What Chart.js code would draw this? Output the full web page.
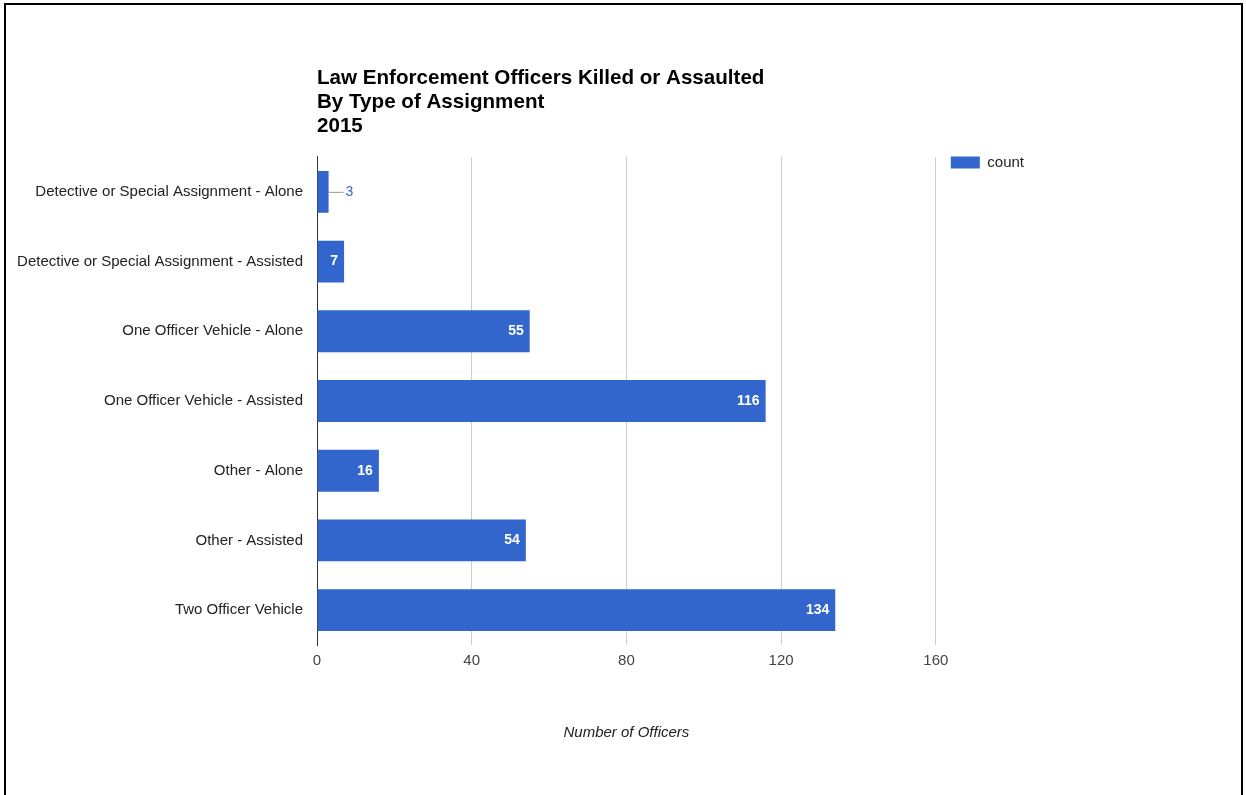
<!DOCTYPE html>
<html>
<head>
<meta charset="utf-8">
<script src="https://cdn.jsdelivr.net/npm/chart.js@4.4.0/dist/chart.umd.min.js"></script>
<style>
  body { margin: 0; background: #fff; }
  #frame { position: absolute; left: 4px; top: 3px; width: 1235px; height: 900px; border: 2px solid #000; }
  #myBarChart { position: absolute; left: 0; top: 0; }
</style>
</head>
<body>
<div id="frame"></div>
<canvas id="myBarChart" width="1246" height="795"></canvas>
<script>
const categories = [
    'Detective or Special Assignment - Alone',
    'Detective or Special Assignment - Assisted',
    'One Officer Vehicle - Alone',
    'One Officer Vehicle - Assisted',
    'Other - Alone',
    'Other - Assisted',
    'Two Officer Vehicle'
];
const counts = [3, 7, 55, 116, 16, 54, 134];
const titleLines = ['Law Enforcement Officers Killed or Assaulted', 'By Type of Assignment', '2015'];
const xTicks = [0, 40, 80, 120, 160];

const barBlue = '#3366cc';
const font = 'Arial, "Liberation Sans", sans-serif';

// value labels: inside the bar when they fit, else outside with a short leader line
const barLabels = {
    id: 'barLabels',
    afterDatasetsDraw(chart) {
        const ctx = chart.ctx;
        const meta = chart.getDatasetMeta(0);
        ctx.save();
        ctx.textBaseline = 'middle';
        meta.data.forEach(function (bar, i) {
            const text = String(counts[i]);
            ctx.font = 'bold 14px ' + font;
            const w = ctx.measureText(text).width;
            if (w + 12 < bar.x - bar.base) {
                ctx.fillStyle = '#ffffff';
                ctx.textAlign = 'right';
                ctx.fillText(text, bar.x - 6, bar.y);
            } else {
                ctx.strokeStyle = '#999999';
                ctx.lineWidth = 1;
                ctx.beginPath();
                ctx.moveTo(bar.x, bar.y + 0.5);
                ctx.lineTo(bar.x + 15, bar.y + 0.5);
                ctx.stroke();
                ctx.font = '14px ' + font;
                ctx.fillStyle = barBlue;
                ctx.textAlign = 'left';
                ctx.fillText(text, bar.x + 17, bar.y);
            }
        });
        ctx.restore();
    }
};

// legend sits level with the top of the plot
const legendUp = {
    id: 'legendUp',
    afterLayout(chart) {
        chart.legend.top -= 17;
        chart.legend.bottom -= 17;
    }
};

new Chart(document.getElementById('myBarChart'), {
    type: 'bar',
    data: {
        labels: categories,
        datasets: [{
            label: 'count',
            data: counts,
            backgroundColor: barBlue,
            borderWidth: 0,
            categoryPercentage: 1.0,
            barPercentage: 0.6
        }]
    },
    options: {
        indexAxis: 'y',
        responsive: false,
        animation: false,
        layout: { padding: { left: 0, right: 212, top: 0, bottom: 53 } },
        plugins: {
            title: {
                display: true,
                text: titleLines,
                align: 'start',
                fullSize: false,
                color: '#000',
                font: { family: font, size: 20.6, weight: 'bold', lineHeight: 1.165 },
                padding: { top: 66, bottom: 19 }
            },
            legend: {
                position: 'right',
                align: 'start',
                fullSize: false,
                labels: {
                    boxWidth: 29,
                    boxHeight: 12,
                    padding: 15,
                    color: '#222',
                    font: { family: font, size: 15 }
                }
            },
            tooltip: { enabled: false }
        },
        scales: {
            x: {
                min: 0,
                max: 160,
                afterBuildTicks: function (s) { s.ticks = xTicks.map(function (v) { return { value: v }; }); },
                afterFit: function (s) { s.height = 97; },
                grid: {
                    drawTicks: false,
                    color: function (c) { return c.tick && c.tick.value === 0 ? 'rgba(0,0,0,0)' : '#cccccc'; }
                },
                border: { display: false },
                ticks: { padding: 7, color: '#444', font: { family: font, size: 15 } },
                title: {
                    display: true,
                    text: 'Number of Officers',
                    color: '#222',
                    font: { family: font, size: 15, style: 'italic' },
                    padding: { top: 4, bottom: 0 }
                }
            },
            y: {
                afterFit: function (s) { s.width = 317; },
                grid: { display: false, drawTicks: false },
                border: { display: true, color: '#333', width: 1 },
                ticks: { padding: 14, color: '#222', font: { family: font, size: 15 } }
            }
        }
    },
    plugins: [barLabels, legendUp]
});
</script>
</body>
</html>
